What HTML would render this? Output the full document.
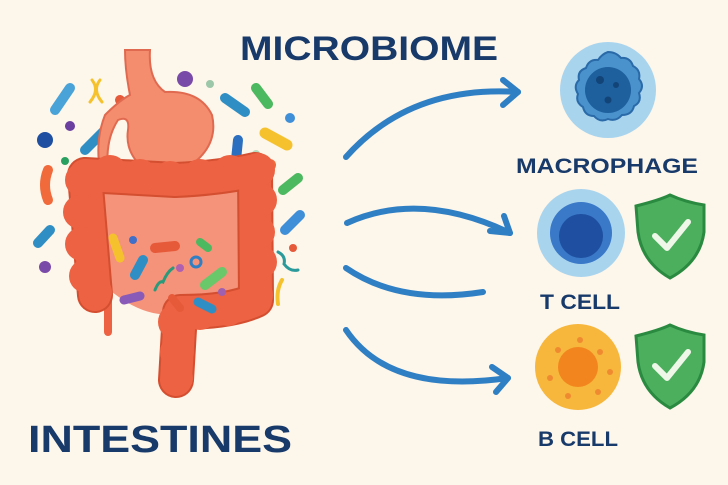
<!DOCTYPE html>
<html><head><meta charset="utf-8"><style>
html,body{margin:0;padding:0;background:#fdf6ea;}
svg{display:block}
text{font-family:"Liberation Sans",sans-serif;font-weight:bold;fill:#173a6b}
</style></head><body>
<svg width="728" height="485" viewBox="0 0 728 485" xmlns="http://www.w3.org/2000/svg">
<rect width="728" height="485" fill="#fdf6ea"/>
<text x="240" y="60" font-size="34" textLength="258" lengthAdjust="spacingAndGlyphs">MICROBIOME</text>
<text x="28" y="452" font-size="38" textLength="264" lengthAdjust="spacingAndGlyphs">INTESTINES</text>

<!-- bacteria outside -->
<g stroke-linecap="round" fill="none">
<line x1="55" y1="110" x2="70" y2="88" stroke="#4aa3d8" stroke-width="10"/>
<line x1="120" y1="100" x2="132" y2="115" stroke="#e65a3a" stroke-width="10"/>
<line x1="85" y1="150" x2="105" y2="130" stroke="#2f8fc4" stroke-width="10"/>
<path d="M48 170 Q42 185 48 200" stroke="#f06a3c" stroke-width="10"/>
<line x1="38" y1="243" x2="50" y2="230" stroke="#2f8fc4" stroke-width="10"/>
<line x1="225" y1="98" x2="245" y2="112" stroke="#2f8fc4" stroke-width="10"/>
<line x1="256" y1="88" x2="268" y2="104" stroke="#4cb860" stroke-width="10"/>
<line x1="265" y1="133" x2="287" y2="145" stroke="#f5c22e" stroke-width="11"/>
<line x1="238" y1="140" x2="235" y2="170" stroke="#2b6fc0" stroke-width="10"/>
<line x1="188" y1="185" x2="208" y2="178" stroke="#2f8fc4" stroke-width="10"/>
<line x1="283" y1="190" x2="298" y2="178" stroke="#4cb860" stroke-width="10"/>
<line x1="285" y1="230" x2="300" y2="215" stroke="#3f8fd8" stroke-width="10"/>
<path d="M140 180 q8 -6 14 2 q8 6 14 0" stroke="#3aa07a" stroke-width="3"/>
<path d="M278 252 q8 4 6 12 q6 8 14 6" stroke="#2a9a9a" stroke-width="3"/>
<path d="M282 280 q-6 10 -4 24" stroke="#f5c22e" stroke-width="4"/>
<path d="M92 80 q8 10 -2 22 M100 80 q-8 10 2 22" stroke="#f5c22e" stroke-width="3"/>
</g>
<circle cx="185" cy="79" r="8" fill="#7a4aa8"/>
<circle cx="210" cy="84" r="4" fill="#9cc7a8"/>
<circle cx="290" cy="118" r="5" fill="#3f8fd8"/>
<circle cx="70" cy="126" r="5" fill="#6a3fa0"/>
<circle cx="45" cy="140" r="8" fill="#1e4fa0"/>
<circle cx="65" cy="161" r="4" fill="#2aa060"/>
<circle cx="256" cy="154" r="4" fill="#b8dcc0"/>
<circle cx="270" cy="165" r="6" fill="#f06a3c"/>
<circle cx="45" cy="267" r="6" fill="#7a4aa8"/>
<circle cx="293" cy="248" r="4" fill="#e65a3a"/>

<!-- stomach -->
<path d="M125 50 L150 50 Q148 80 165 92 Q200 90 212 115 Q220 150 180 172 Q150 178 140 165 Q125 150 128 130 Q130 115 118 120 Q105 140 108 170 L100 170 Q95 140 105 115 Q120 100 130 95 Q125 70 125 50Z" fill="#f48c6e" stroke="#e06a50" stroke-width="2"/>
<!-- colon inner -->
<path d="M98 188 Q170 200 240 188 L240 292 Q200 300 185 312 Q150 322 112 292Z" fill="#f4937a"/>
<!-- colon tube -->
<g fill="none" stroke-linecap="round" stroke-linejoin="round">
<path d="M108 300 L108 332" stroke="#ec6242" stroke-width="8"/>
<path d="M95 295 L85 175 Q140 178 175 180 Q220 178 255 170 L256 300 Q230 312 180 312 L176 380" stroke="#d44e30" stroke-width="36"/>
<path d="M95 295 L85 175 Q140 178 175 180 Q220 178 255 170 L256 300 Q230 312 180 312 L176 380" stroke="#ec6242" stroke-width="32"/>
</g>
<g fill="#ec6242">
<circle cx="82" cy="180" r="17"/><circle cx="80" cy="212" r="17"/><circle cx="82" cy="244" r="17"/><circle cx="86" cy="276" r="17"/><circle cx="96" cy="292" r="16"/>
<circle cx="110" cy="172" r="17"/><circle cx="140" cy="176" r="17"/><circle cx="170" cy="178" r="17"/><circle cx="200" cy="176" r="17"/><circle cx="230" cy="172" r="17"/><circle cx="258" cy="170" r="17"/>
<circle cx="260" cy="200" r="17"/><circle cx="258" cy="232" r="17"/><circle cx="260" cy="262" r="17"/><circle cx="256" cy="295" r="17"/>
<circle cx="228" cy="310" r="16"/><circle cx="200" cy="314" r="16"/><circle cx="176" cy="322" r="18"/><circle cx="177" cy="352" r="17"/><circle cx="178" cy="378" r="15"/>
</g>
<path d="M180 380 L178 396 L172 380Z" fill="#ec6242"/>
<!-- inner bacteria -->
<g stroke-linecap="round" fill="none">
<line x1="113" y1="238" x2="120" y2="258" stroke="#f5c22e" stroke-width="9"/>
<line x1="155" y1="248" x2="175" y2="246" stroke="#e65a3a" stroke-width="10"/>
<line x1="135" y1="275" x2="143" y2="260" stroke="#2f8fc4" stroke-width="10"/>
<line x1="200" y1="242" x2="208" y2="248" stroke="#4cb860" stroke-width="8"/>
<line x1="205" y1="285" x2="222" y2="272" stroke="#6ac86a" stroke-width="10"/>
<line x1="124" y1="300" x2="140" y2="296" stroke="#8a5ab8" stroke-width="9"/>
<line x1="172" y1="298" x2="180" y2="308" stroke="#e65a3a" stroke-width="8"/>
<line x1="198" y1="302" x2="212" y2="309" stroke="#2f8fc4" stroke-width="9"/>
<path d="M155 290 q4 -10 8 -8 q4 -10 10 -14" stroke="#2a9a7a" stroke-width="3"/>
<circle cx="196" cy="262" r="5" stroke="#2f7fc4" stroke-width="3"/>
</g>
<circle cx="133" cy="240" r="4" fill="#3f6fc8"/>
<circle cx="180" cy="268" r="4" fill="#b060b0"/>
<circle cx="222" cy="292" r="4" fill="#a060b0"/>

<!-- arrows -->
<g stroke="#2f7fc4" stroke-width="6" fill="none" stroke-linecap="round" stroke-linejoin="round">
<path d="M346 157 Q410 85 518 92"/><path d="M503 80 L518 92 L503 105"/>
<path d="M347 223 Q420 190 510 233"/><path d="M490 231 L510 233 L504 216"/>
<path d="M346 268 Q400 305 483 292"/>
<path d="M346 330 Q390 395 508 378"/><path d="M492 367 L508 378 L496 392"/>
</g>

<!-- macrophage -->
<circle cx="608" cy="90" r="48" fill="#a9d4ee"/>
<path d="M608 52 q8 0 13 6 q9 -1 12 8 q8 4 6 13 q6 7 0 14 q3 9 -5 13 q-2 9 -12 9 q-6 7 -14 4 q-8 4 -14 -3 q-9 0 -11 -9 q-8 -5 -5 -13 q-5 -8 1 -14 q-2 -9 7 -12 q3 -9 12 -8 q4 -6 10 -8z" fill="#4a92cc" stroke="#2a6aa8" stroke-width="2"/>
<circle cx="608" cy="90" r="23" fill="#1e5f9e"/>
<circle cx="600" cy="80" r="4" fill="#124478"/><circle cx="616" cy="85" r="3" fill="#124478"/><circle cx="608" cy="100" r="3.5" fill="#124478"/>
<text x="607" y="173" font-size="21" text-anchor="middle" textLength="182" lengthAdjust="spacingAndGlyphs">MACROPHAGE</text>

<!-- T cell -->
<circle cx="581" cy="233" r="44" fill="#a9d4ee"/>
<circle cx="581" cy="233" r="31" fill="#3a78c8"/>
<circle cx="581" cy="236" r="22" fill="#1e4fa0"/>
<text x="580" y="309" font-size="21" text-anchor="middle" textLength="80" lengthAdjust="spacingAndGlyphs">T CELL</text>

<!-- B cell -->
<circle cx="578" cy="367" r="43" fill="#f6b73c"/>
<circle cx="578" cy="367" r="20" fill="#f2851e"/>
<g fill="#f08a30"><circle cx="558" cy="350" r="3"/><circle cx="580" cy="340" r="3"/><circle cx="600" cy="352" r="3"/><circle cx="610" cy="372" r="3"/><circle cx="598" cy="392" r="3"/><circle cx="568" cy="396" r="3"/><circle cx="550" cy="378" r="3"/></g>
<text x="578" y="446" font-size="21" text-anchor="middle" textLength="80" lengthAdjust="spacingAndGlyphs">B CELL</text>

<!-- shields -->
<g>
<path d="M636 206 Q660 200 670 195 Q685 202 704 205 L704 232 Q700 262 670 278 Q642 262 638 232Z" fill="#4caf5e" stroke="#2a8a40" stroke-width="3"/>
<path d="M655 236 L667 248 L688 222" stroke="#eef7e8" stroke-width="6" fill="none" stroke-linecap="round" stroke-linejoin="round"/>
<path d="M636 336 Q660 330 670 325 Q685 332 704 335 L704 362 Q700 392 670 408 Q642 392 638 362Z" fill="#4caf5e" stroke="#2a8a40" stroke-width="3"/>
<path d="M655 366 L667 378 L688 352" stroke="#eef7e8" stroke-width="6" fill="none" stroke-linecap="round" stroke-linejoin="round"/>
</g>
</svg>
</body></html>
